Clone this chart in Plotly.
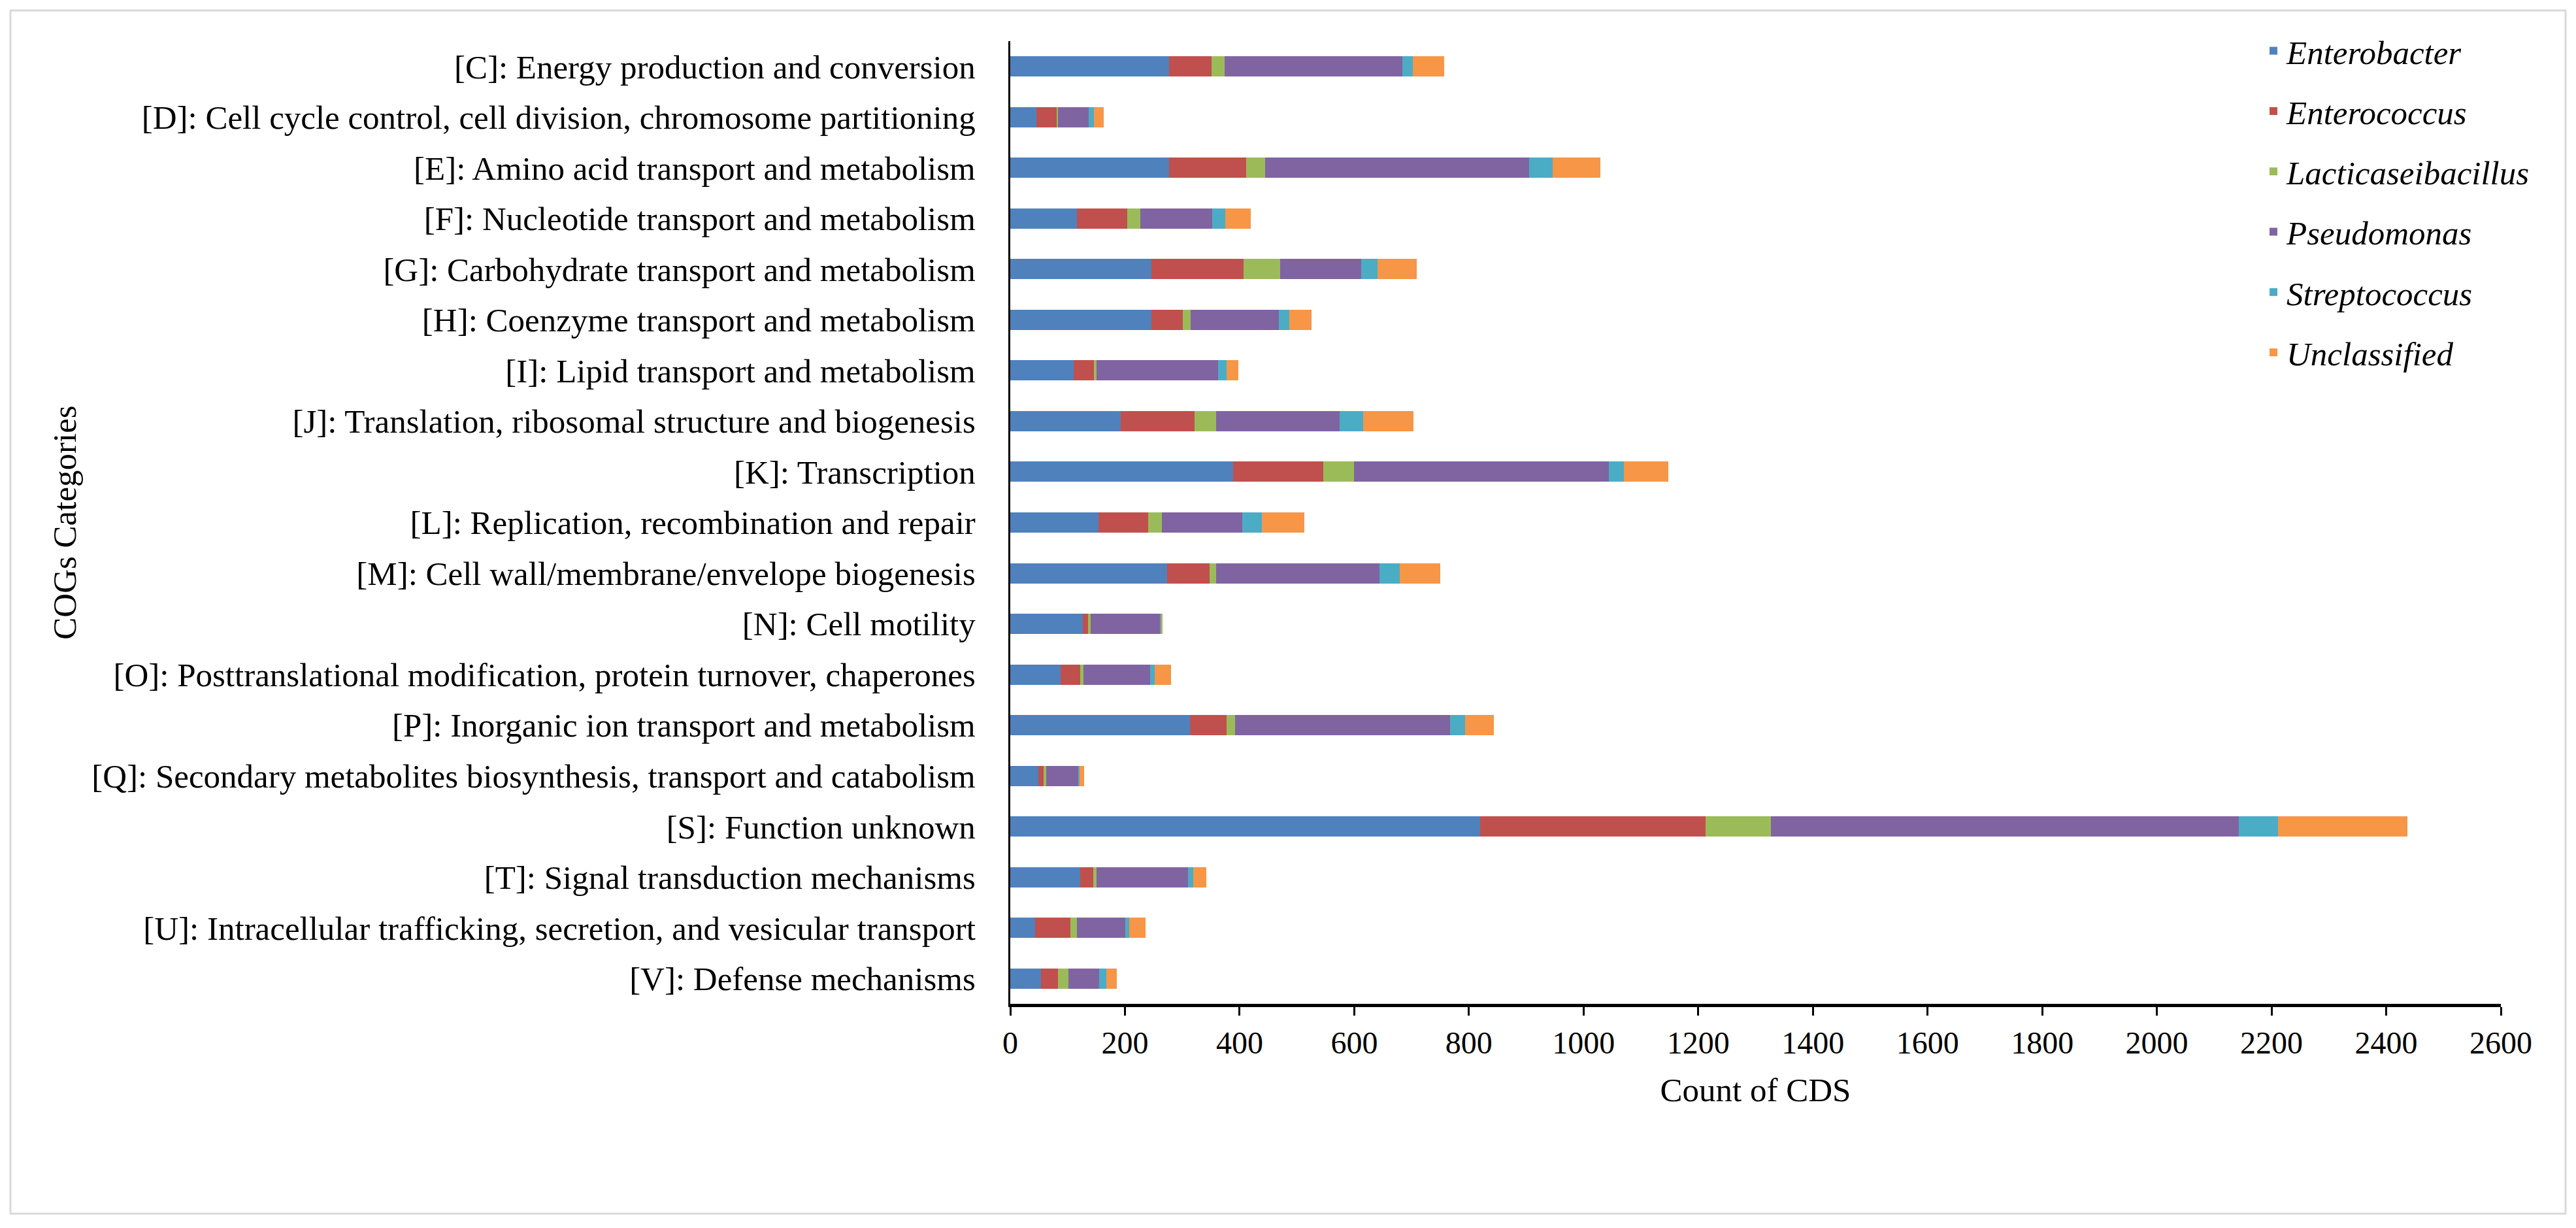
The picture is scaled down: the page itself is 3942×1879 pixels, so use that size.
import plotly.graph_objects as go

categories = [
    "[C]: Energy production and conversion",
    "[D]: Cell cycle control, cell division, chromosome partitioning",
    "[E]: Amino acid transport and metabolism",
    "[F]: Nucleotide transport and metabolism",
    "[G]: Carbohydrate transport and metabolism",
    "[H]: Coenzyme transport and metabolism",
    "[I]: Lipid transport and metabolism",
    "[J]: Translation, ribosomal structure and biogenesis",
    "[K]: Transcription",
    "[L]: Replication, recombination and repair",
    "[M]: Cell wall/membrane/envelope biogenesis",
    "[N]: Cell motility",
    "[O]: Posttranslational modification, protein turnover, chaperones",
    "[P]: Inorganic ion transport and metabolism",
    "[Q]: Secondary metabolites biosynthesis, transport and catabolism",
    "[S]: Function unknown",
    "[T]: Signal transduction mechanisms",
    "[U]: Intracellular trafficking, secretion, and vesicular transport",
    "[V]: Defense mechanisms",
]

enterobacter       = [277, 46, 277, 116, 246, 246, 110, 193, 389, 154, 274, 126, 88, 313, 49, 820, 122, 43, 54]
enterococcus       = [74, 35, 135, 88, 161, 55, 36, 129, 157, 86, 74, 10, 34, 64, 9, 393, 23, 62, 29]
lacticaseibacillus = [23, 2, 33, 23, 64, 14, 5, 37, 53, 25, 11, 4, 6, 15, 5, 114, 6, 11, 18]
pseudomonas        = [310, 54, 460, 125, 141, 153, 211, 215, 445, 140, 285, 122, 116, 375, 56, 816, 159, 85, 54]
streptococcus      = [18, 9, 41, 23, 29, 19, 15, 41, 26, 34, 35, 1, 8, 26, 2, 68, 9, 6, 12]
unclassified       = [55, 17, 83, 45, 68, 39, 21, 88, 78, 74, 71, 3, 28, 50, 8, 226, 23, 29, 19]

series_names = ["Enterobacter", "Enterococcus", "Lacticaseibacillus",
                "Pseudomonas", "Streptococcus", "Unclassified"]
series_values = [enterobacter, enterococcus, lacticaseibacillus,
                 pseudomonas, streptococcus, unclassified]
colors = ["#4F81BD", "#C0504D", "#9BBB59", "#8064A2", "#4BACC6", "#F79646"]

x_ticks = list(range(0, 2601, 200))

OFF = 8  # page offset of the figure inside the browser window
W, H = 3942 - 2 * OFF, 1879 - 2 * OFF
L, R, T, B = 1546 - OFF, 3827 - OFF, 63 - OFF, 1536 - OFF  # plot area in figure pixels
FONT = "Liberation Serif, Times New Roman, serif"

fig = go.Figure()
for name, vals, col in zip(series_names, series_values, colors):
    fig.add_trace(go.Bar(
        y=categories, x=vals, name=name, orientation="h",
        marker=dict(color=col, line=dict(width=0)),
        legendgroup=name,
    ))

pw, ph = R - L, B - T
def px_x(v):
    return (v - OFF - L) / pw
def px_y(v):
    return (B - (v - OFF)) / ph

fig.update_layout(
    width=W, height=H,
    margin=dict(l=L, r=W - R, t=T, b=H - B, autoexpand=False),
    barmode="stack",
    bargap=0.6,
    plot_bgcolor="white",
    paper_bgcolor="white",
    font=dict(family=FONT, size=51, color="black"),
    showlegend=True,
    legend=dict(
        x=px_x(3459), y=px_y(38), xanchor="left", yanchor="top",
        font=dict(family=FONT, size=51, color="black", style="italic"),
        tracegroupgap=23,
        bgcolor="rgba(0,0,0,0)",
        traceorder="grouped",
    ),
    xaxis=dict(
        range=[0, 2600], tickvals=x_ticks, ticktext=[str(v) for v in x_ticks],
        showgrid=False, zeroline=False,
        showline=True, linecolor="black", linewidth=5,
        ticks="outside", ticklen=13, tickwidth=2.5, tickcolor="black",
        tickfont=dict(family=FONT, size=48, color="black"),
        title=dict(text="Count of CDS", font=dict(family=FONT, size=51, color="black"), standoff=30),
        automargin=False,
    ),
    yaxis=dict(
        categoryorder="array", categoryarray=categories,
        autorange="reversed",
        showgrid=False, zeroline=False,
        showline=True, linecolor="black", linewidth=3,
        ticks="", ticklabelstandoff=40,
        tickfont=dict(family=FONT, size=51, color="black"),
        title=dict(text="COGs Categories", font=dict(family=FONT, size=51, color="black"), standoff=8),
        automargin=False,
    ),
    shapes=[dict(
        type="rect", xref="paper", yref="paper",
        x0=px_x(16), x1=px_x(3926), y0=px_y(1857), y1=px_y(16),
        line=dict(color="#D9D9D9", width=3), fillcolor="rgba(0,0,0,0)", layer="below",
    )],
)

fig.write_html("out.html")
